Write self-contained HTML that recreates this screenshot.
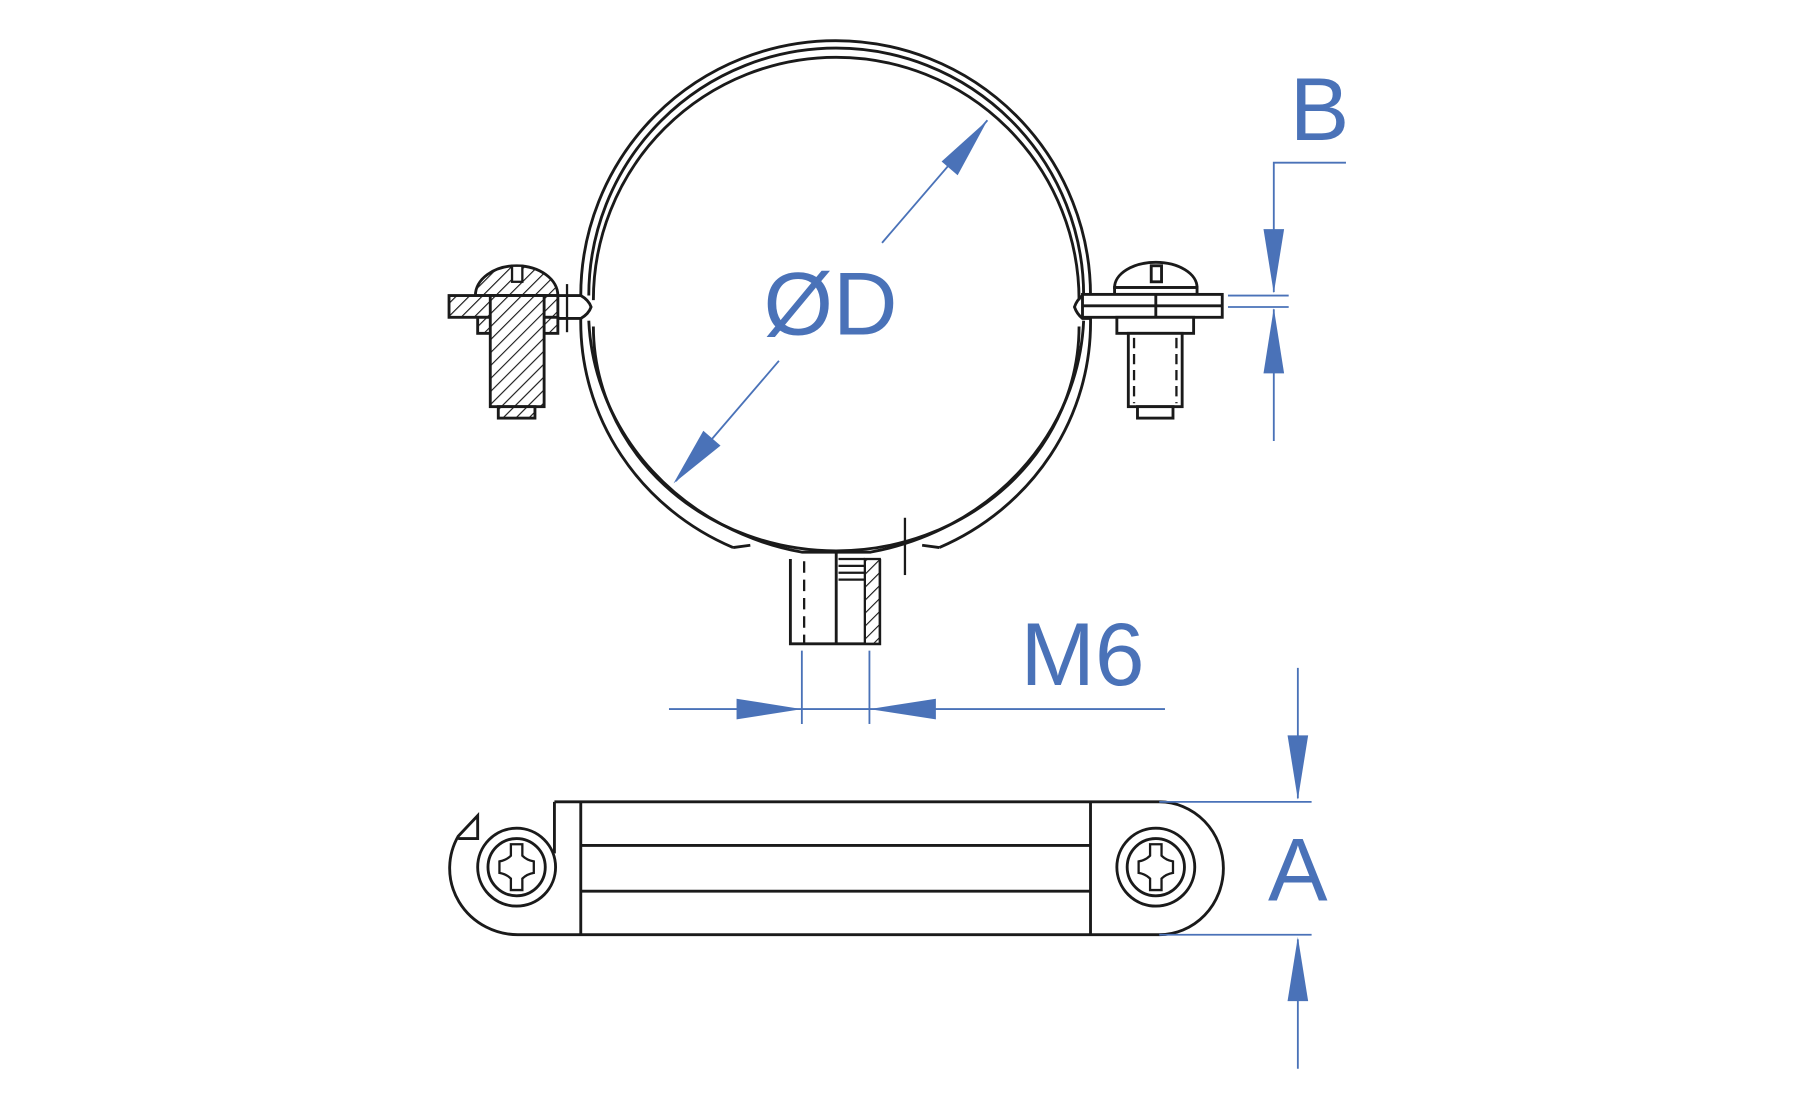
<!DOCTYPE html>
<html><head><meta charset="utf-8"><style>html,body{margin:0;padding:0;background:#fff}svg{display:block}</style></head>
<body>
<svg width="1795" height="1110" viewBox="0 0 1567 969" preserveAspectRatio="none" xmlns="http://www.w3.org/2000/svg">
<defs>
<pattern id="h" width="8" height="8" patternUnits="userSpaceOnUse" patternTransform="rotate(45)">
<rect width="8" height="8" fill="#fff"/><line x1="0" y1="0" x2="0" y2="8" stroke="#1a1a1a" stroke-width="2"/></pattern>
</defs>
<g fill="none" stroke="#1a1a1a" stroke-width="2.5">
<path d="M507,258 A222,222 0 0 1 952,258"/>
<path d="M514,258 A216,216 0 0 1 946,258"/>
<path d="M518,262 A210,210 0 0 1 942,262"/>
<path d="M507,278 A222,215 0 0 0 640,478"/>
<path d="M514,280 A230,215 0 0 0 700,482 L760,482 A230,215 0 0 0 946,280"/>
<path d="M518,285 A212,196 0 0 0 942,285"/>
<path d="M952,278 A222,215 0 0 1 820,478"/>
<path d="M640,478 L655,476 M805,476 L820,478"/>
<path d="M487,258 L507,258 Q514,262 516,268 Q514,274 507,278 L487,278"/>
<path d="M952,258 L945,258 Q940,262 938,268 Q940,274 945,278 L952,278"/>
<path d="M690,488 L690,562 L768,562 L768,488"/>
<line x1="730" y1="482" x2="730" y2="562"/>
<line x1="790" y1="452" x2="790" y2="502" stroke-width="2"/>
<line x1="702" y1="490" x2="702" y2="562" stroke-dasharray="10,6" stroke-width="2"/>
</g>
<rect x="755" y="488" width="13" height="74" fill="url(#h)" stroke="#1a1a1a" stroke-width="2"/>
<g stroke="#1a1a1a" stroke-width="2"><line x1="732" y1="488" x2="755" y2="488"/><line x1="732" y1="494" x2="755" y2="494"/><line x1="732" y1="500" x2="755" y2="500"/><line x1="732" y1="506" x2="755" y2="506"/></g>
<g stroke="#1a1a1a" stroke-width="2.5" fill="url(#h)">
<path d="M415,258 A36,26 0 0 1 487,258 Z"/>
<rect x="392" y="258" width="95" height="19"/>
<rect x="417" y="277" width="70" height="14"/>
<rect x="428" y="258" width="47" height="97"/>
<rect x="435" y="355" width="32" height="10"/>
</g>
<rect x="447" y="232" width="9" height="14" fill="#fff" stroke="#1a1a1a" stroke-width="2"/>
<line x1="495" y1="248" x2="495" y2="290" stroke="#1a1a1a" stroke-width="2"/>
<g stroke="#1a1a1a" stroke-width="2.5" fill="#fff">
<path d="M973,251 A36,22 0 0 1 1045,251 Z"/>
<rect x="973" y="251" width="72" height="6"/>
<rect x="945" y="257" width="122" height="20"/>
<line x1="945" y1="267" x2="1067" y2="267"/>
<line x1="1009" y1="257" x2="1009" y2="277"/>
<rect x="975" y="277" width="67" height="14"/>
<rect x="985" y="291" width="47" height="64"/>
<rect x="993" y="355" width="31" height="10"/>
<rect x="1005" y="232" width="9" height="14"/>
</g>
<g stroke="#1a1a1a" stroke-width="2" stroke-dasharray="9,5"><line x1="990" y1="295" x2="990" y2="352"/><line x1="1027" y1="295" x2="1027" y2="352"/></g>
<g fill="none" stroke="#1a1a1a" stroke-width="2.5">
<path d="M484,700 L1012,700 A56,58 0 0 1 1012,816 L452,816 A60,58 0 0 1 400,730 L417,712 L417,732 L400,732"/>
<path d="M484,700 L484,745"/>
<line x1="507" y1="700" x2="507" y2="816"/>
<line x1="952" y1="700" x2="952" y2="816"/>
<line x1="507" y1="738" x2="952" y2="738"/>
<line x1="507" y1="778" x2="952" y2="778"/>
<circle cx="451" cy="757" r="34"/><circle cx="451" cy="757" r="25"/>
<circle cx="1009" cy="757" r="34"/><circle cx="1009" cy="757" r="25"/>
<path d="M446,737 h10 v10 q4,4 10,5 v10 q-6,1 -10,5 v10 h-10 v-10 q-4,-4 -10,-5 v-10 q6,-1 10,-5 z" stroke-width="2"/>
<path d="M1004,737 h10 v10 q4,4 10,5 v10 q-6,1 -10,5 v10 h-10 v-10 q-4,-4 -10,-5 v-10 q6,-1 10,-5 z" stroke-width="2"/>
</g>
<g stroke="#4a72b8" stroke-width="1.6" fill="none">
<line x1="590" y1="420" x2="680" y2="315"/>
<line x1="770" y1="212" x2="862" y2="105"/>
<polyline points="1112,385 1112,270"/><polyline points="1112,255 1112,142 1175,142"/>
<line x1="1072" y1="258" x2="1125" y2="258"/><line x1="1072" y1="268" x2="1125" y2="268"/>
<line x1="584" y1="619" x2="1017" y2="619"/>
<line x1="700" y1="568" x2="700" y2="632"/><line x1="759" y1="568" x2="759" y2="632"/>
<line x1="1133" y1="583" x2="1133" y2="697"/><line x1="1133" y1="820" x2="1133" y2="933"/>
<line x1="1012" y1="700" x2="1145" y2="700"/><line x1="1012" y1="816" x2="1145" y2="816"/>
</g>
<g fill="#4a72b8">
<polygon points="862,105 836,153 822,141"/>
<polygon points="588,422 614,376 629,389"/>
<polygon points="1112,256 1103,200 1121,200"/>
<polygon points="1112,269 1103,326 1121,326"/>
<polygon points="700,619 643,610 643,628"/>
<polygon points="759,619 817,610 817,628"/>
<polygon points="1133,698 1124,642 1142,642"/>
<polygon points="1133,818 1124,874 1142,874"/>
</g>
<g fill="#4a72b8" font-family="Liberation Sans, sans-serif" font-size="78">
<text x="725" y="292" text-anchor="middle">ØD</text>
<text x="1152" y="122" text-anchor="middle">B</text>
<text x="945" y="598" text-anchor="middle">M6</text>
<text x="1133" y="786" text-anchor="middle">A</text>
</g>
</svg>
</body></html>
